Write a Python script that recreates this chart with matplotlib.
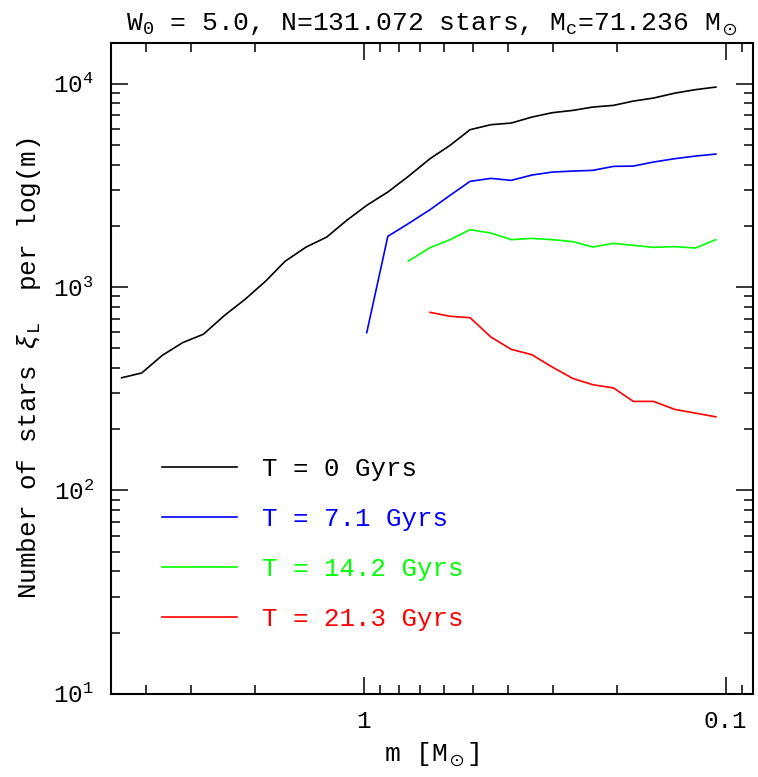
import matplotlib
matplotlib.use("Agg")
import matplotlib.pyplot as plt
from matplotlib.ticker import FixedLocator, FixedFormatter, LogLocator, NullFormatter

plt.rcParams['font.family'] = ['Liberation Mono', 'DejaVu Serif']
plt.rcParams['mathtext.fontset'] = 'custom'
plt.rcParams['mathtext.rm'] = 'Liberation Mono'
plt.rcParams['mathtext.it'] = 'Liberation Mono:italic'
plt.rcParams['mathtext.bf'] = 'Liberation Mono:bold'
plt.rcParams['mathtext.fallback'] = 'stix'

# mass bins (M_sun), decreasing
mass = [4.66, 4.10, 3.60, 3.16, 2.77, 2.42, 2.125, 1.863, 1.648, 1.441,
        1.264, 1.113, 0.980, 0.857, 0.752, 0.655, 0.577, 0.508, 0.445, 0.391,
        0.343, 0.301, 0.264, 0.2327, 0.204, 0.1798, 0.1582, 0.1379, 0.1212, 0.1064]

n_t0 = [358, 378, 461, 533, 586, 726, 870, 1070, 1338, 1573,
        1761, 2128, 2522, 2932, 3502, 4279, 4974, 5939, 6285, 6402,
        6850, 7201, 7391, 7673, 7822, 8212, 8497, 8991, 9344, 9623]

n_t71 = [597, 1776, 2050, 2402, 2824, 3309, 3423, 3346, 3553, 3676,
         3718, 3748, 3921, 3934, 4118, 4279, 4406, 4506]          # from bin 12

n_t142 = [1342, 1562, 1710, 1915, 1843, 1710, 1735, 1710, 1672, 1573,
          1640, 1603, 1568, 1580, 1555, 1710]                     # from bin 14

n_t213 = [751, 718, 707, 568, 494, 465, 404, 355, 331, 319,
          274, 274, 250, 240, 230]                                # from bin 15

labels = ["T = 0 Gyrs", "T = 7.1 Gyrs", "T = 14.2 Gyrs", "T = 21.3 Gyrs"]
colors = ["black", "#0000ff", "#00ff00", "#ff0000"]

fig = plt.figure(figsize=(7.58, 7.77), dpi=100)
ax = fig.add_axes([0.1458, 0.1071, 0.9934 - 0.1458, 0.9443 - 0.1071])

series = [(mass, n_t0), (mass[12:], n_t71), (mass[14:], n_t142), (mass[15:], n_t213)]
for (xm, yn), c, lab in zip(series, colors, labels):
    ax.plot(xm, yn, color=c, lw=1.2, label=lab)

ax.set_xscale('log')
ax.set_yscale('log')
ax.set_xlim(5.0, 0.084)
ax.set_ylim(10, 1.58e4)

ax.xaxis.set_major_locator(FixedLocator([1.0, 0.1]))
ax.xaxis.set_major_formatter(FixedFormatter(["1", "0.1"]))
ax.xaxis.set_minor_locator(LogLocator(base=10, subs=range(2, 10), numticks=20))
ax.xaxis.set_minor_formatter(NullFormatter())
ax.yaxis.set_minor_locator(LogLocator(base=10, subs=range(2, 10), numticks=20))
ax.yaxis.set_minor_formatter(NullFormatter())

ax.tick_params(which='both', direction='in', top=True, right=True, width=1.1)
ax.tick_params(which='major', length=12.5, labelsize=17.5, pad=12)
ax.tick_params(which='minor', length=6.2)
for s in ax.spines.values():
    s.set_linewidth(1.5)

ax.set_title(r"W$_0$ = 5.0, N=131.072 stars, M$_\mathrm{c}$=71.236 M$_\odot$", fontsize=19, pad=9)
ax.set_xlabel(r"m [M$_\odot$]", fontsize=19, labelpad=5)
ax.set_ylabel(r"Number of stars $\xi_\mathrm{L}$  per log(m)", fontsize=18.7, labelpad=7)

leg = ax.legend(loc='upper left', bbox_to_anchor=(162 / 758, 1 - 457 / 777),
                bbox_transform=fig.transFigure, frameon=False, fontsize=18.5,
                handlelength=2.92, handletextpad=0.97, labelspacing=1.01,
                borderpad=0, borderaxespad=0, labelcolor='linecolor')

fig.savefig("out.png", dpi=100)
